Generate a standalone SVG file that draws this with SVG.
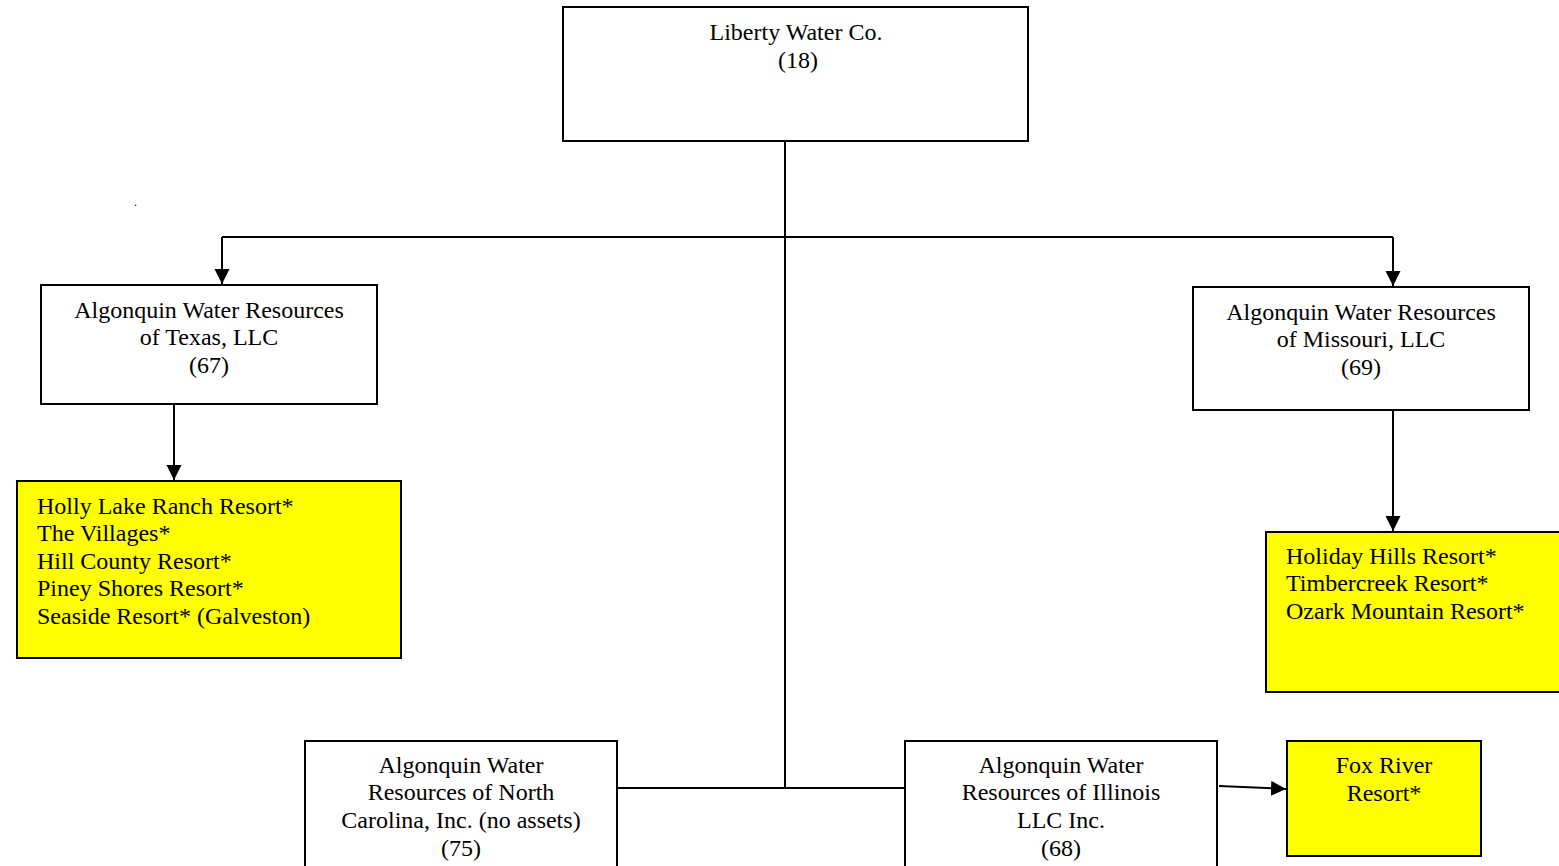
<svg xmlns="http://www.w3.org/2000/svg" width="1559" height="866" viewBox="0 0 1559 866">
<defs>
<marker id="arr" markerWidth="16" markerHeight="16" refX="15" refY="7.5" orient="auto" markerUnits="userSpaceOnUse">
<path d="M0,0 L15,7.5 L0,15 Z" fill="#000"/>
</marker>
<style>
.box{fill:#fff;stroke:#000;stroke-width:2}
.ybox{fill:#ffff00;stroke:#000;stroke-width:2}
.t{font-family:"Liberation Serif",'Times New Roman',Times,serif;font-size:24px;fill:#000}
.c{text-anchor:middle}
.ln{stroke:#000;stroke-width:2;fill:none}
</style>
</defs>
<rect width="1559" height="866" fill="#fff"/>
<g class="t">
<text x="134" y="206" font-size="12">.</text>
</g>
<g id="connectors">
<line class="ln" x1="785" y1="141" x2="785" y2="788"/>
<line class="ln" x1="222" y1="237" x2="1393" y2="237"/>
<line class="ln" x1="222" y1="237" x2="222" y2="284" marker-end="url(#arr)"/>
<line class="ln" x1="1393" y1="237" x2="1393" y2="286" marker-end="url(#arr)"/>
<line class="ln" x1="174" y1="404" x2="174" y2="480" marker-end="url(#arr)"/>
<line class="ln" x1="1393" y1="410" x2="1393" y2="531" marker-end="url(#arr)"/>
<line class="ln" x1="617" y1="788" x2="905" y2="788"/>
<line class="ln" x1="1219" y1="786" x2="1286" y2="789" marker-end="url(#arr)"/>
</g>
<g id="liberty" class="t">
<rect class="box" x="563" y="7" width="465" height="134"/>
<text class="c" x="796" y="40">Liberty Water Co.</text>
<text class="c" x="798" y="68">(18)</text>
</g>
<g id="texas" class="t">
<rect class="box" x="41" y="285" width="336" height="119"/>
<text class="c" x="209" y="318">Algonquin Water Resources</text>
<text class="c" x="209" y="345">of Texas, LLC</text>
<text class="c" x="209" y="373">(67)</text>
</g>
<g id="missouri" class="t">
<rect class="box" x="1193" y="287" width="336" height="123"/>
<text class="c" x="1361" y="320">Algonquin Water Resources</text>
<text class="c" x="1361" y="347">of Missouri, LLC</text>
<text class="c" x="1361" y="375">(69)</text>
</g>
<g id="texas-resorts" class="t">
<rect class="ybox" x="17" y="481" width="384" height="177"/>
<text x="37" y="514">Holly Lake Ranch Resort*</text>
<text x="37" y="541">The Villages*</text>
<text x="37" y="569">Hill County Resort*</text>
<text x="37" y="596">Piney Shores Resort*</text>
<text x="37" y="624">Seaside Resort* (Galveston)</text>
</g>
<g id="missouri-resorts" class="t">
<rect class="ybox" x="1266" y="532" width="310" height="160"/>
<text x="1286" y="564">Holiday Hills Resort*</text>
<text x="1286" y="591">Timbercreek Resort*</text>
<text x="1286" y="619">Ozark Mountain Resort*</text>
</g>
<g id="north-carolina" class="t">
<rect class="box" x="305" y="741" width="312" height="140"/>
<text class="c" x="461" y="773">Algonquin Water</text>
<text class="c" x="461" y="800">Resources of North</text>
<text class="c" x="461" y="828">Carolina, Inc. (no assets)</text>
<text class="c" x="461" y="856">(75)</text>
</g>
<g id="illinois" class="t">
<rect class="box" x="905" y="741" width="312" height="140"/>
<text class="c" x="1061" y="773">Algonquin Water</text>
<text class="c" x="1061" y="800">Resources of Illinois</text>
<text class="c" x="1061" y="828">LLC Inc.</text>
<text class="c" x="1061" y="856">(68)</text>
</g>
<g id="fox-river" class="t">
<rect class="ybox" x="1287" y="741" width="194" height="115"/>
<text class="c" x="1384" y="773">Fox River</text>
<text class="c" x="1384" y="801">Resort*</text>
</g>
</svg>
